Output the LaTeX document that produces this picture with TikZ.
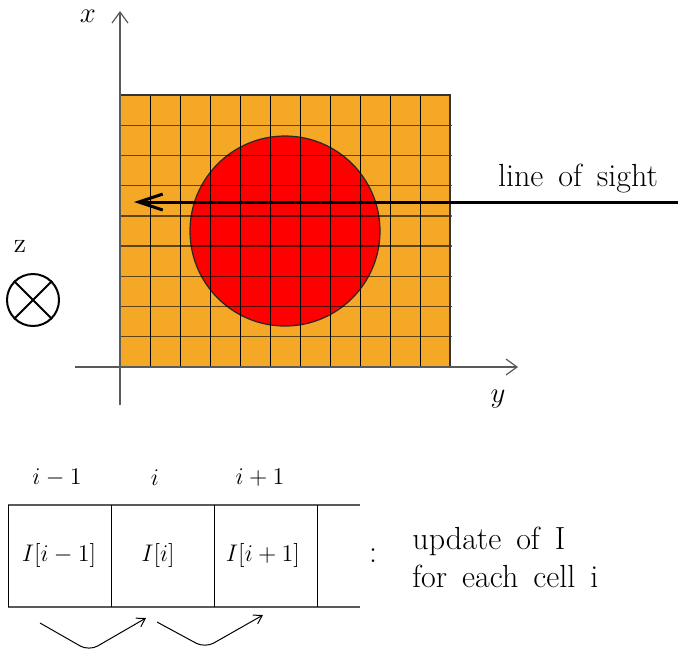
\documentclass[tikz,border=0pt]{standalone}
\usetikzlibrary{arrows.meta}
\definecolor{gridorange}{RGB}{245,167,38}
\definecolor{axisgray}{RGB}{90,90,90}
\newcommand\mywidespace{\spaceskip=7.5pt\relax}
\begin{document}
\begin{tikzpicture}[x=0.5pt,y=-0.5pt,
  txt/.style={font=\fontsize{16}{19}\selectfont\mywidespace, inner sep=0pt},
  mth/.style={font=\fontsize{12}{14}\selectfont, inner sep=0pt},
  axlab/.style={font=\fontsize{14}{16}\selectfont, inner sep=0pt},
  vline/.style={black, line width=0.5pt},
  hline/.style={black, opacity=0.6, line width=0.7pt},
  axis/.style={axisgray, line width=0.6pt, -{Straight Barb[length=5.5pt,width=8pt,line width=0.6pt]}},
  los/.style={black, line width=1.5pt, -{Straight Barb[length=12pt,width=8pt,line width=1.5pt]}},
  strip/.style={axisgray, line width=1pt},
  cellline/.style={black, line width=0.5pt},
  bentarrow/.style={black, line width=0.5pt, rounded corners=5pt, -{Straight Barb[length=4pt,width=5pt,line width=0.5pt]}}
]
\useasboundingbox (0,0) rectangle (678,655);
% grid background
\fill[gridorange] (120,95) rectangle (450,367);
% red disc
\draw[fill=red, draw=black!85, line width=0.6pt] (285,231) circle[radius=95];
% grid lines
\foreach \i in {1,...,10} \draw[vline] ({120+30*\i},95) -- ({120+30*\i},367);
\foreach \j in {1,...,8} \draw[hline] (120,{95+272/9*\j}) -- (452,{95+272/9*\j});
\draw[black!80, line width=0.6pt] (120,95) rectangle (450,367);
% axes
\coordinate (xs) at (120,405);
\coordinate (xe) at (120,11);
\coordinate (ys) at (75,367);
\coordinate (ye) at (518,367);
\draw[axis] (xs) -- (xe);
\draw[axis] (ys) -- (ye);
\node[axlab] (xlab) at (88,16) {$x$};
\node[axlab] (ylab) at (498,399) {$y$};
% z axis symbol
\node[axlab] (zlab) at (20,246) {z};
\node[draw=black, line width=1pt, circle, minimum size=26pt, inner sep=0pt] (zc) at (33,300) {};
\draw[black, line width=1pt] (zc.north west) -- (zc.south east);
\draw[black, line width=1pt] (zc.north east) -- (zc.south west);
% line of sight
\coordinate (losS) at (678,202);
\coordinate (losE) at (134,202);
\draw[los] (losS) -- (losE);
\node[txt] (loslab) at (578,179) {line of sight};
% bottom strip
\draw[strip] (8,505) -- (360,505);
\draw[strip] (8,607) -- (360,607);
\foreach \xx in {8,111,214,317} \draw[cellline] (\xx,505) -- (\xx,607);
\node[mth] (l1) at (57,478) {$i-1$};
\node[mth] (l2) at (155,478) {$i$};
\node[mth] (l3) at (260,478) {$i+1$};
\node[mth] (c1) at (59,555) {$I[i-1]$};
\node[mth] (c2) at (158,555) {$I[i]$};
\node[mth] (c3) at (263,555) {$I[i+1]$};
\node[txt] (colon) at (373,556) {:};
\node[txt, anchor=west] (t1) at (412,541) {update of I};
\node[txt, anchor=west] (t2) at (412,576) {for each cell i};
% bent arrows
\coordinate (a1) at (40,623);
\coordinate (b1) at (89,651);
\coordinate (e1) at (146,618);
\coordinate (a2) at (157,622);
\coordinate (b2) at (205,648);
\coordinate (e2) at (263,615);
\draw[bentarrow] (a1) -- (b1) -- (e1);
\draw[bentarrow] (a2) -- (b2) -- (e2);
\end{tikzpicture}
\end{document}
